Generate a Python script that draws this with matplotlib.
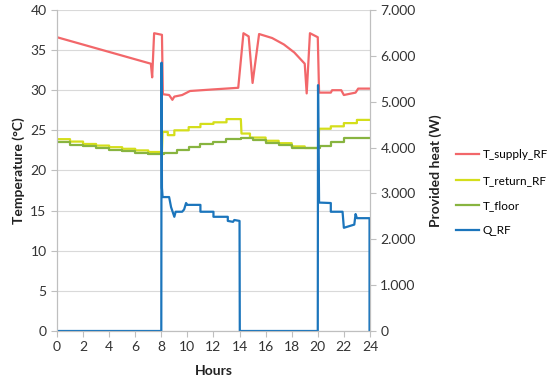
# Radiant floor test: supply/return/floor temperatures and heat delivered over a day
import matplotlib.pyplot as plt
from matplotlib.ticker import FuncFormatter, MultipleLocator

plt.rcParams['font.family'] = ['Lato', 'DejaVu Sans']

# T_supply_RF (degC)
supply_t = [0, 7.2, 7.3, 7.45, 8.05, 8.12, 8.6, 8.85, 9.0, 9.6, 10.2, 12.0, 13.9,
            14.3, 14.7, 15.0, 15.5, 16.5, 17.4, 18.2, 19.0, 19.15, 19.4, 20.0, 20.1,
            21.0, 21.1, 21.8, 22.0, 22.6, 22.9, 23.1, 24.0]
supply_v = [36.6, 33.3, 31.6, 37.1, 36.9, 29.5, 29.4, 28.8, 29.2, 29.4, 29.9, 30.1, 30.3,
            37.1, 36.7, 30.9, 37.0, 36.5, 35.7, 34.7, 33.3, 29.6, 37.1, 36.6, 29.7,
            29.7, 30.0, 30.0, 29.4, 29.6, 29.7, 30.2, 30.2]

# T_return_RF (degC), stepwise
return_t = [0, 1, 1, 2, 2, 3, 3, 4, 4, 5, 5, 6, 6, 7, 7, 8.05,
            8.1, 8.5, 8.5, 9.0, 9.0, 10.1, 10.1, 11.0, 11.0, 12.0, 12.0, 13.0, 13.0, 14.1,
            14.15, 14.8, 14.8, 16.0, 16.0, 17.0, 17.0, 18.0, 18.0, 19.0, 19.0, 20.05,
            20.1, 21.0, 21.0, 22.0, 22.0, 23.0, 23.0, 24.0]
return_v = [23.9, 23.9, 23.6, 23.6, 23.3, 23.3, 23.1, 23.1, 22.9, 22.9, 22.7, 22.7, 22.5, 22.5, 22.3, 22.3,
            24.8, 24.8, 24.4, 24.4, 25.0, 25.0, 25.4, 25.4, 25.8, 25.8, 26.0, 26.0, 26.4, 26.4,
            24.6, 24.6, 24.1, 24.1, 23.7, 23.7, 23.4, 23.4, 23.0, 23.0, 22.8, 22.8,
            25.2, 25.2, 25.5, 25.5, 25.9, 25.9, 26.3, 26.3]

# T_floor (degC), stepwise
floor_t = [0, 1, 1, 2, 2, 3, 3, 4, 4, 5, 5, 6, 6, 7, 7, 8.2, 8.2, 9.2, 9.2, 10.1, 10.1,
           11.0, 11.0, 12.0, 12.0, 13.0, 13.0, 14.1, 14.1, 15.0, 15.0, 16.0, 16.0, 17.0,
           17.0, 18.0, 18.0, 20.2, 20.2, 21.0, 21.0, 22.0, 22.0, 23.0, 23.0, 24.0]
floor_v = [23.5, 23.5, 23.2, 23.2, 23.0, 23.0, 22.8, 22.8, 22.6, 22.6, 22.4, 22.4, 22.2, 22.2,
           22.0, 22.0, 22.2, 22.2, 22.5, 22.5, 22.9, 22.9, 23.3, 23.3, 23.6, 23.6, 23.9, 23.9,
           24.0, 24.0, 23.8, 23.8, 23.4, 23.4, 23.2, 23.2, 22.8, 22.8, 23.0, 23.0, 23.5, 23.5,
           24.0, 24.0, 24.0, 24.0]

# Q_RF (W)
heat_t = [0, 8.0, 8.02, 8.05, 8.1, 8.6, 8.75, 9.0, 9.1, 9.6, 9.75, 9.9, 10.0, 11.0, 11.0,
          12.0, 12.0, 13.1, 13.1, 13.5, 13.6, 14.0, 14.02, 20.0, 20.02, 20.1, 21.0, 21.0,
          21.9, 22.0, 22.8, 22.9, 23.0, 23.97, 23.97]
heat_v = [0, 0, 5850, 3120, 2920, 2920, 2700, 2490, 2600, 2600, 2650, 2790, 2750, 2750, 2600,
          2600, 2490, 2490, 2400, 2380, 2420, 2400, 0, 0, 5360, 2800, 2790, 2600,
          2600, 2250, 2320, 2550, 2460, 2460, 0]

hour_ticks = list(range(0, 25, 2))

red = '#F2676A'
yellow = '#D4DE1B'
green = '#88B440'
blue = '#1B75BC'
grey = '#BFBFBF'

fig = plt.figure(figsize=(5.5, 3.82), dpi=100)
ax = fig.add_axes([0.1036, 0.1335, 0.569, 0.8405])
ax2 = ax.twinx()

l1, = ax.plot(supply_t, supply_v, color=red, lw=1.6, label='T_supply_RF')
l2, = ax.plot(return_t, return_v, color=yellow, lw=1.6, label='T_return_RF')
l3, = ax.plot(floor_t, floor_v, color=green, lw=1.6, label='T_floor')
l4, = ax2.plot(heat_t, heat_v, color=blue, lw=1.6, label='Q_RF')

ax.set_xlim(0, 24)
ax.set_ylim(0, 40)
ax2.set_ylim(0, 7000)
ax.set_xticks(hour_ticks)
ax.yaxis.set_major_locator(MultipleLocator(5))
ax2.yaxis.set_major_locator(MultipleLocator(1000))
ax2.yaxis.set_major_formatter(FuncFormatter(lambda v, p: f'{int(v):,}'.replace(',', '.')))

ax.grid(axis='y', color='#D9D9D9', lw=0.8)
ax.set_axisbelow(True)

for a in (ax, ax2):
    for s in a.spines.values():
        s.set_color(grey)
    a.spines['top'].set_visible(False)
    a.tick_params(axis='both', colors=grey, labelcolor='#333333', labelsize=10, length=4)

ax.set_xlabel('Hours', fontsize=10, fontweight='bold', color='#222222', labelpad=8)
ax.set_ylabel('Temperature (°C)', fontsize=10, fontweight='bold', color='#222222')
ax2.set_ylabel('Provided heat (W)', fontsize=10, fontweight='bold', color='#222222', labelpad=10)

fig.legend(handles=[l1, l2, l3, l4], loc='upper left', bbox_to_anchor=(0.822, 0.618),
           frameon=False, fontsize=8.5, handlelength=2.0, labelspacing=1.2, handletextpad=0.3,
           borderaxespad=0, borderpad=0.3)

fig.savefig('out.png', dpi=100)
